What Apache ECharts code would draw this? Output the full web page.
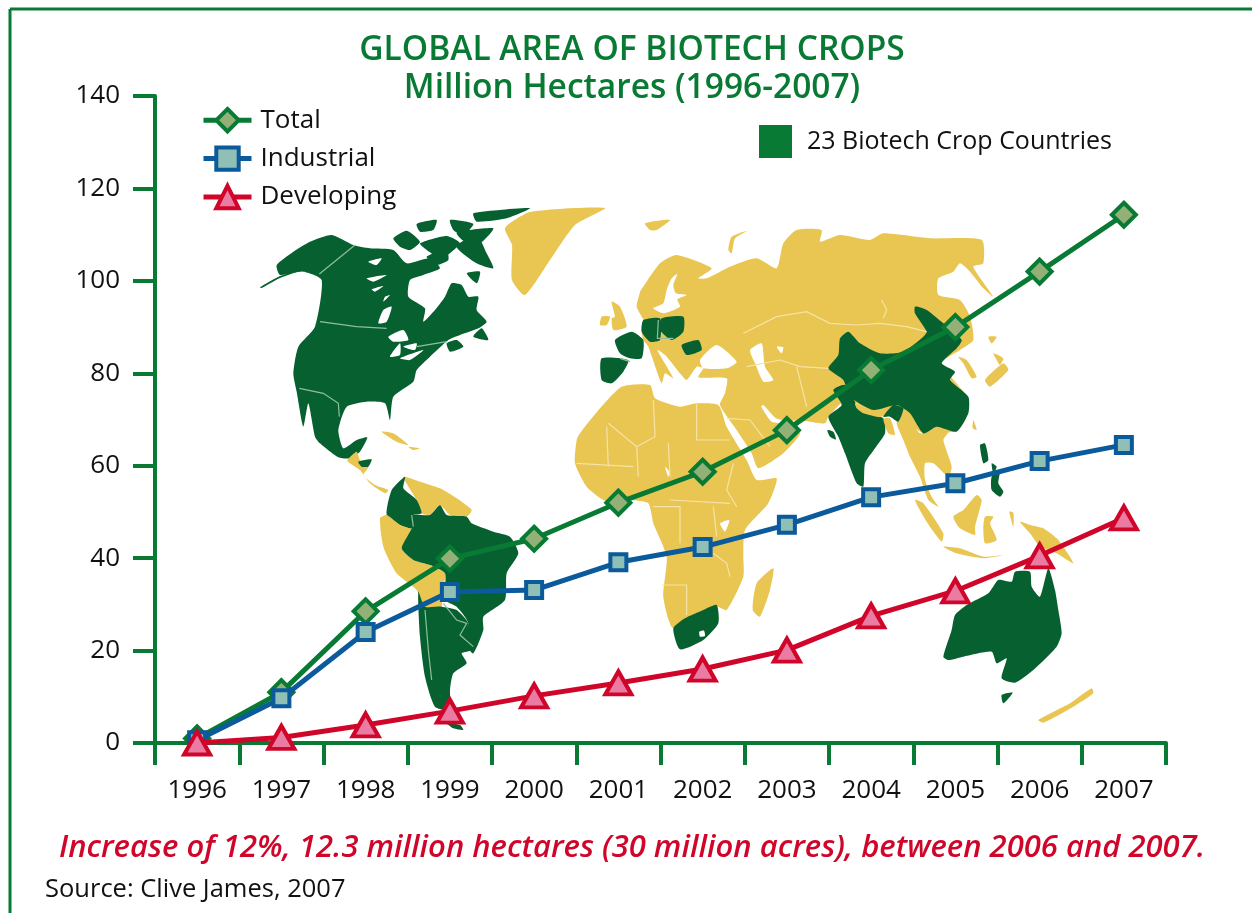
<!DOCTYPE html>
<html><head><meta charset="utf-8">
<style>html,body{margin:0;padding:0;background:#fff}#c{width:1252px;height:913px}</style>
<script src="https://cdn.jsdelivr.net/npm/echarts@6/dist/echarts.min.js"></script>
</head><body><div id="c"></div>
<script>
const yearLabels = ['1996','1997','1998','1999','2000','2001','2002','2003','2004','2005','2006','2007'];
const totalValues = [1,11,28.5,39.9,44.2,52,58.7,67.7,80.7,90,102,114.3];
const industrialValues = [0.6,9.7,24,32.7,33.1,39.1,42.4,47.2,53.2,56.2,61,64.5];
const developingValues = [0,1.2,3.9,6.9,10.2,13,16,20.1,27.5,32.9,40.5,48.7];
const yTickValues = [0,20,40,60,80,100,120,140];

/* Background world map: hand-traced decoration, not data */
function buildMapElements(){
 var G='#07602f';
 var Y='#e9c552';
 var S='#fff';
 var zoomPts=function(ox,oy,a){return a.map(function(p){return [ox+p[0]/3,oy+p[1]/3];});};
 var mz4=function(a){return zoomPts(260,200,a);};
 var mz5=function(a){return zoomPts(360,450,a);};
 var mz6=function(a){return zoomPts(570,290,a);};
 var mz7=function(a){return zoomPts(640,200,a);};
 var mz8=function(a){return zoomPts(800,320,a);};
 var mz9=function(a){return zoomPts(920,530,a);};
 var mapLand=[
 [Y,[[505,228],[530,212],[605,208],[575,225],[550,260],[525,295],[512,280],[512,245]]],
 [G,mz4([[50,195],[100,155],[150,125],[215,105],[280,135],[330,145],[400,150],[440,190],[510,175],[540,205],[490,225],[450,240],[445,290],[495,325],[490,365],[525,330],[555,290],[575,250],[605,255],[625,290],[655,290],[650,330],[680,365],[655,385],[600,405],[565,420],[510,470],[470,510],[460,545],[400,590],[390,660],[375,610],[320,605],[260,620],[235,690],[250,745],[290,720],[322,712],[300,755],[270,775],[235,772],[180,730],[165,710],[145,610],[130,680],[110,575],[100,520],[115,440],[165,380],[185,240],[130,215],[60,225]])],
 [G,mz4([[0,262],[60,228],[120,212],[60,234],[5,264]])],
 [G,mz4([[400,115],[440,92],[480,125],[450,150],[420,140]])],
 [G,mz4([[470,72],[530,60],[520,90],[480,95]])],
 [G,mz4([[480,130],[560,108],[600,130],[545,175],[500,150]])],
 [G,mz4([[590,98],[700,85],[660,130],[610,122]])],
 [G,mz4([[640,40],[720,30],[810,25],[740,55],[650,65]])],
 [G,mz4([[590,140],[650,105],[680,160],[700,205],[650,190]])],
 [G,mz4([[620,220],[660,215],[650,250]])],
 [G,mz4([[570,60],[640,72],[610,105],[580,90]])],
 [G,mz4([[500,170],[560,150],[565,180],[530,195]])],
 [G,mz4([[640,410],[665,385],[685,420]])],
 [G,mz4([[570,455],[610,440],[590,420],[560,430]])],
 [S,mz4([[385,410],[430,390],[445,420],[400,425]])],
 [S,mz4([[390,470],[420,430],[420,465]])],
 [S,mz4([[420,475],[490,450],[450,480]])],
 [S,mz4([[430,440],[470,430],[465,450]])],
 [S,mz4([[325,185],[365,175],[350,195]])],
 [S,mz4([[320,235],[380,225],[340,245]])],
 [S,mz4([[335,268],[370,258],[345,275]])],
 [S,mz4([[375,290],[390,285],[370,305]])],
 [S,mz4([[355,370],[370,330],[395,320],[380,365]])],
 [Y,mz4([[262,782],[290,755],[300,780],[325,800],[310,825],[345,855],[385,870],[375,880],[330,850],[300,810]])],
 [G,mz4([[295,785],[335,778],[325,800],[305,800]])],
 [Y,mz4([[365,695],[400,700],[445,735],[410,725]])],
 [Y,mz4([[445,740],[480,745],[460,750]])],
 /* South America */
 [Y,mz5([[130,80],[180,95],[240,115],[290,145],[335,180],[320,200],[270,195],[240,165],[210,195],[185,190],[170,150]])],
 [G,mz5([[80,195],[95,120],[135,80],[130,115],[170,150],[185,190],[160,195],[155,235],[120,225]])],
 [Y,mz5([[60,205],[80,195],[120,225],[155,240],[125,295],[160,330],[210,345],[255,370],[245,440],[245,470],[195,470],[170,420],[110,370],[70,290]])],
 [G,mz5([[175,425],[195,470],[245,470],[290,480],[325,520],[310,565],[335,600],[305,610],[320,640],[280,670],[270,720],[270,780],[225,770],[195,680],[180,560]])],
 [G,mz5([[155,235],[155,195],[210,195],[240,165],[260,195],[320,200],[335,220],[400,245],[450,260],[475,310],[440,370],[435,450],[370,500],[370,540],[340,610],[320,590],[300,570],[325,520],[290,470],[255,450],[255,370],[210,345],[160,330],[125,295]])],
 [G,mz5([[255,815],[300,825],[310,840],[280,835]])],
 /* Africa */
 [Y,mz6([[90,355],[155,290],[240,285],[255,325],[330,350],[380,340],[445,345],[470,410],[530,510],[560,570],[620,565],[595,640],[525,720],[520,800],[520,860],[470,960],[440,950],[430,1000],[310,1015],[280,920],[290,800],[250,700],[235,640],[180,630],[110,635],[50,590],[15,520],[20,450],[30,430]])],
 [G,mz6([[310,1015],[345,985],[400,960],[440,945],[445,1000],[400,1050],[330,1078]])],
 [S,mz6([[388,1025],[402,1022],[405,1038],[390,1040]])],
 [Y,mz6([[610,835],[600,900],[570,980],[548,960],[560,880]])],
 [S,mz6([[450,700],[478,690],[465,725]])],
 [S,mz6([[285,530],[298,545],[295,560]])],
 /* Eurasia */
 [Y,mz7([[0,275],[60,190],[110,165],[215,205],[175,235],[200,235],[270,200],[350,175],[410,205],[430,130],[470,90],[545,90],[540,125],[600,105],[690,120],[730,100],[870,115],[1025,120],[1030,190],[1000,200],[1060,290],[1030,265],[990,215],[960,190],[940,215],[895,235],[895,285],[960,300],[990,350],[1000,420],[960,450],[905,490],[985,600],[950,690],[850,700],[770,640],[730,650],[620,600],[565,650],[555,670]]).concat(
   mz6([[700,392],[650,392],[618,385],[580,345],[574,350],[605,395],[645,402],[690,430],[640,490],[565,535],[545,490],[500,420],[450,345],[465,310],[470,265],[385,262],[400,235],[380,230],[350,270],[330,250],[290,200],[262,180],[310,265],[285,250],[275,280],[235,170],[220,150],[215,125],[220,90],[200,50],[210,6]]))],
 [S,mz6([[390,210],[440,165],[500,215],[470,235],[400,235]])],
 [S,mz6([[540,180],[575,160],[585,230],[610,270],[580,275],[555,220]])],
 [S,mz6([[620,170],[640,172],[635,190]])],
 [S,mz7([[95,235],[112,222],[100,255],[108,280],[140,285],[112,298],[120,320],[70,340],[40,325],[70,310],[80,270]])],
 [Y,mz6([[125,35],[150,50],[170,110],[130,120],[125,85],[135,80]])],
 [Y,mz6([[95,80],[120,80],[110,105],[90,105]])],
 [Y,mz7([[15,70],[90,60],[50,90],[30,90]])],
 [Y,mz7([[265,150],[275,110],[322,92],[285,115],[275,160]])],
 [G,mz6([[135,150],[185,125],[220,150],[215,205],[180,205],[150,190]])],
 [G,mz6([[95,205],[175,210],[160,245],[125,280],[95,270]])],
 [G,mz6([[220,90],[270,85],[270,150],[240,155],[215,125]])],
 [G,mz6([[275,85],[340,80],[340,125],[305,150],[270,120]])],
 [G,mz6([[335,165],[385,150],[395,180],[350,195]])],
 /* Asia */
 [Y,mz8([[300,270],[330,290],[360,340],[415,325],[445,335],[430,360],[455,440],[445,470],[400,430],[375,430],[375,480],[395,530],[415,560],[385,540],[360,470],[330,410],[310,360],[290,310]])],
 [G,mz7([[565,505],[595,465],[600,415],[625,395],[660,430],[720,460],[790,455],[850,410],[860,395],[825,340],[825,320],[860,330],[910,370],[965,420],[950,445],[905,490],[945,515],[930,540],[985,590],[985,640],[950,695],[890,680],[850,700],[810,640],[770,615],[700,630],[630,590],[610,540]])],
 [G,mz8([[85,290],[125,255],[100,210],[135,195],[165,245],[170,260],[250,295],[255,340],[225,385],[195,430],[190,500],[170,490],[135,400],[115,350]])],
 [Y,mz8([[165,250],[190,260],[245,285],[240,292],[190,280],[170,265]])],
 [G,mz8([[250,290],[280,255],[310,265],[295,305],[270,290]])],
 [Y,mz8([[250,297],[270,295],[285,345],[265,340]])],
 [Y,mz8([[475,110],[500,120],[530,170],[515,175],[490,130]])],
 [Y,mz8([[555,180],[610,130],[625,150],[570,200]])],
 [Y,mz8([[580,100],[610,115],[600,135],[590,120]])],
 [Y,mz8([[565,50],[590,50],[575,70]])],
 [Y,mz8([[520,300],[530,330],[518,325]])],
 [Y,mz8([[345,540],[370,550],[430,640],[425,665],[380,605]])],
 [Y,mz8([[430,680],[480,685],[550,710],[610,705],[550,715],[470,700]])],
 [Y,mz8([[530,525],[545,540],[525,620],[525,645],[480,625],[460,590],[490,570]])],
 [Y,mz8([[555,590],[580,590],[570,610],[590,660],[555,670],[550,625]])],
 [Y,mz8([[660,605],[690,615],[730,625],[775,660],[820,730],[770,700],[720,680],[690,640]])],
 [Y,mz8([[628,575],[640,578],[640,620]])],
 [G,mz8([[540,375],[555,370],[565,420],[550,430]])],
 [G,mz8([[575,470],[600,450],[595,490],[610,515],[600,530],[575,510]])],
 [G,mz8([[575,430],[590,440],[580,460]])],
 [G,mz8([[82,330],[100,335],[108,358],[90,350]])],
 /* Australia */
 [G,mz9([[70,380],[95,300],[105,255],[140,225],[205,190],[235,150],[275,155],[285,125],[330,125],[335,170],[360,200],[385,115],[405,180],[415,240],[425,310],[410,350],[340,420],[285,458],[245,445],[260,385],[230,400],[215,365],[130,380],[85,390]])],
 [G,mz9([[245,495],[278,488],[250,520]])],
 [Y,mz9([[355,570],[450,520],[515,475],[520,490],[460,530],[370,578]])]
 ];
 var B1='#8fbf9f';
 var B2='#f5e3a8';
 var mapBorders=[
 [B1,mz4([[178,222],[285,135]])],
 [B1,mz4([[180,365],[290,380],[380,385]])],
 [B1,mz4([[118,565],[190,580],[235,610],[238,650]])],
 [B1,mz4([[470,440],[560,425]])],
 [B1,mz5([[195,480],[205,600],[215,690]])],
 [B1,mz5([[250,460],[290,510],[320,520],[300,555],[340,590]])],
 [B1,mz5([[155,195],[160,230]])],
 [B1,mz6([[265,90],[262,145],[310,145]])],
 [B1,mz6([[150,205],[180,215]])],
 [B2,mz6([[110,410],[115,530]])],
 [B2,mz6([[250,330],[255,440],[200,470],[115,400]])],
 [B2,mz6([[380,340],[380,450]])],
 [B2,mz6([[200,470],[205,560]])],
 [B2,mz6([[295,460],[300,560]])],
 [B2,mz6([[380,450],[480,450]])],
 [B2,mz6([[490,520],[470,600],[500,650]])],
 [B2,mz6([[300,630],[480,640]])],
 [B2,mz6([[250,650],[330,650],[330,760]])],
 [B2,mz6([[430,650],[440,740]])],
 [B2,mz6([[275,885],[350,885],[350,975]])],
 [B2,mz6([[20,520],[190,530]])],
 [B2,mz6([[430,790],[470,820],[480,860]])],
 [B2,mz6([[470,385],[540,390],[600,470]])],
 [B2,mz7([[310,400],[410,350],[500,335],[570,370],[650,375],[720,370],[800,380],[860,395]])],
 [B2,mz7([[320,500],[420,480],[480,500],[565,505]])],
 [B2,mz7([[725,300],[740,330],[730,355]])],
 [B2,mz7([[470,500],[500,620]])]
 ];
 var out=[];
 mapLand.forEach(function(l){out.push({type:'polygon',z:-1,silent:true,shape:{points:l[1],smooth:0.2},style:{fill:l[0]}});});
 mapBorders.forEach(function(b){out.push({type:'polyline',z:-1,silent:true,shape:{points:b[1]},style:{stroke:b[0],fill:null,lineWidth:1.2}});});
 return out;
}
const gfxElements=[
 {type:'rect',z:5,shape:{x:759,y:125,width:33,height:33},style:{fill:'#087a34'},silent:true},
 {type:'text',z:5,x:807,y:142,style:{text:'23 Biotech Crop Countries',fill:'#111',font:'25px "Open Sans"',textVerticalAlign:'middle'},silent:true},
 {type:'line',z:5,shape:{x1:10,y1:9,x2:1252,y2:9},style:{stroke:'#087a34',lineWidth:3}},
 {type:'line',z:5,shape:{x1:10,y1:9,x2:10,y2:913},style:{stroke:'#087a34',lineWidth:3}}
].concat(buildMapElements());

const chartInst=echarts.init(document.getElementById('c'),null,{renderer:'canvas'});
const AXIS_COL='#087a34';
const FONT_NAME='"Open Sans"';
function makeSeries(name,data,sym,size,col,fill,z){
 return {name:name,type:'line',data:data,z:z,symbol:sym,symbolSize:size,showSymbol:true,showAllSymbol:true,
  lineStyle:{color:col,width:5},itemStyle:{color:fill,borderColor:col,borderWidth:4},emphasis:{disabled:true},animation:false};
}
chartInst.setOption({
 animation:false,
 backgroundColor:'#fff',
 title:[
  {text:'GLOBAL AREA OF BIOTECH CROPS\nMillion Hectares (1996-2007)',left:632,top:31,padding:0,textAlign:'center',textStyle:{color:'#087a34',fontFamily:FONT_NAME,fontSize:33.5,fontWeight:600,lineHeight:38}},
  {text:'Increase of 12%, 12.3 million hectares (30 million acres), between 2006 and 2007.',left:632,top:833,padding:0,textAlign:'center',textStyle:{color:'#d0052a',fontFamily:FONT_NAME,fontSize:31,fontWeight:600,fontStyle:'italic'}},
  {text:'Source: Clive James, 2007',left:45,top:877,padding:0,textStyle:{color:'#111',fontFamily:FONT_NAME,fontSize:25.5,fontWeight:'normal'}}
 ],
 legend:{orient:'vertical',left:201,top:107,padding:0,itemWidth:48,itemHeight:28,itemGap:12,
  data:['Total','Industrial','Developing'],selectedMode:false,
  lineStyle:{width:5},itemStyle:{borderWidth:4},
  textStyle:{color:'#111',fontFamily:FONT_NAME,fontSize:26,padding:[0,0,0,4]}},
 grid:{left:155,right:86,top:96,bottom:170,containLabel:false},
 xAxis:{type:'category',data:yearLabels,boundaryGap:true,
  axisLine:{lineStyle:{color:AXIS_COL,width:4}},
  axisTick:{show:true,alignWithLabel:false,length:22,lineStyle:{color:AXIS_COL,width:4}},
  axisLabel:{color:'#111',fontFamily:FONT_NAME,fontSize:26,margin:35},splitLine:{show:false}},
 yAxis:{type:'value',min:yTickValues[0],max:yTickValues[yTickValues.length-1],interval:20,
  axisLine:{show:true,lineStyle:{color:AXIS_COL,width:4}},
  axisTick:{show:true,length:22,lineStyle:{color:AXIS_COL,width:4}},
  axisLabel:{color:'#111',fontFamily:FONT_NAME,fontSize:26,margin:35},splitLine:{show:false}},
 series:[
  makeSeries('Total',totalValues,'diamond',24,'#087a34','#93b077',10),
  makeSeries('Industrial',industrialValues,'rect',16,'#0a5a9c','#8fbfb5',11),
  makeSeries('Developing',developingValues,'triangle',[26,23],'#d0052a','#ea7ba3',12)
 ],
 graphic:{elements:gfxElements}
});
</script></body></html>
